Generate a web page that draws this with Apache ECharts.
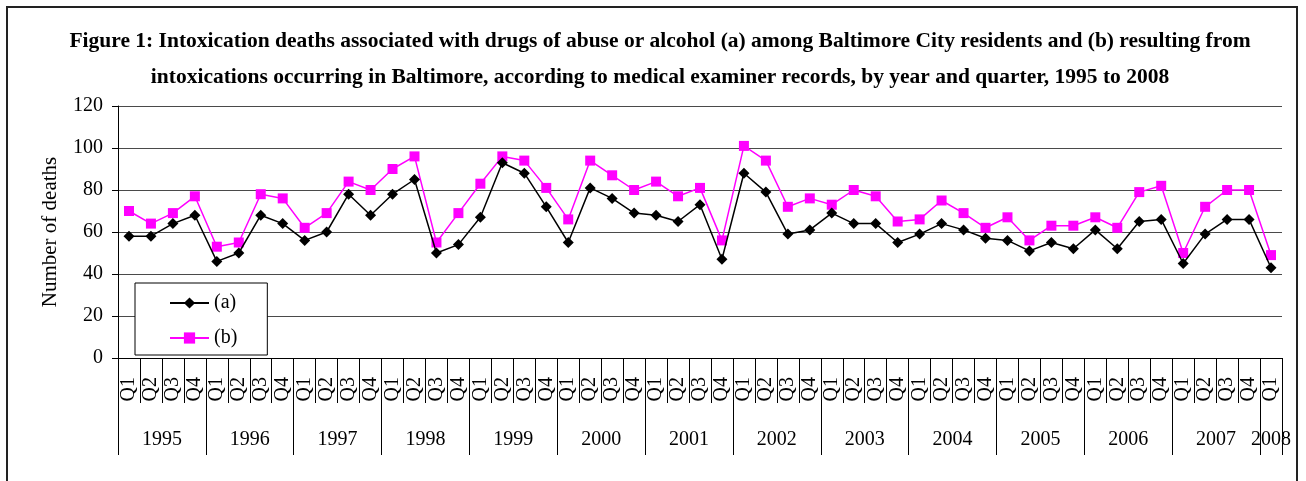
<!DOCTYPE html>
<html>
<head>
<meta charset="utf-8">
<title>Intoxication deaths, Baltimore, 1995-2008</title>
<script src="https://cdn.jsdelivr.net/npm/echarts@6/dist/echarts.min.js"></script>
<style>
  html, body { margin: 0; padding: 0; background: #fff; }
  #chart { width: 1306px; height: 481px; }
</style>
</head>
<body>
<div id="chart"></div>
<script>
// Quarter labels along the axis, 1995 Q1 through 2008 Q1
const quarters = [
  'Q1','Q2','Q3','Q4', 'Q1','Q2','Q3','Q4', 'Q1','Q2','Q3','Q4', 'Q1','Q2','Q3','Q4',
  'Q1','Q2','Q3','Q4', 'Q1','Q2','Q3','Q4', 'Q1','Q2','Q3','Q4', 'Q1','Q2','Q3','Q4',
  'Q1','Q2','Q3','Q4', 'Q1','Q2','Q3','Q4', 'Q1','Q2','Q3','Q4', 'Q1','Q2','Q3','Q4',
  'Q1','Q2','Q3','Q4', 'Q1'
];
const years = ['1995','1996','1997','1998','1999','2000','2001','2002',
               '2003','2004','2005','2006','2007','2008'];

// (a) deaths among Baltimore City residents
const seriesA = [
  58, 58, 64, 68,  46, 50, 68, 64,  56, 60, 78, 68,  78, 85, 50, 54,
  67, 93, 88, 72,  55, 81, 76, 69,  68, 65, 73, 47,  88, 79, 59, 61,
  69, 64, 64, 55,  59, 64, 61, 57,  56, 51, 55, 52,  61, 52, 65, 66,
  45, 59, 66, 66,  43
];
// (b) deaths resulting from intoxications occurring in Baltimore
const seriesB = [
  70, 64, 69, 77,  53, 55, 78, 76,  62, 69, 84, 80,  90, 96, 55, 69,
  83, 96, 94, 81,  66, 94, 87, 80,  84, 77, 81, 56, 101, 94, 72, 76,
  73, 80, 77, 65,  66, 75, 69, 62,  67, 56, 63, 63,  67, 62, 79, 82,
  50, 72, 80, 80,  49
];
const yTicks = { min: 0, max: 120, step: 20 };

// Year group boundaries and label positions on a continuous quarter scale
const nQ = quarters.length;
const yearBounds = [];
for (let i = 0; i <= nQ; i += 4) yearBounds.push(i);
if (yearBounds[yearBounds.length - 1] !== nQ) yearBounds.push(nQ);
const yearMids = [];
for (let k = 0; k < yearBounds.length - 1; k++) {
  yearMids.push((yearBounds[k] + yearBounds[k + 1]) / 2);
}

const serif = "'Liberation Serif', 'Times New Roman', serif";
const chart = echarts.init(document.getElementById('chart'), null, { renderer: 'canvas' });

chart.setOption({
  backgroundColor: '#ffffff',
  animation: false,
  textStyle: { fontFamily: serif, color: '#000' },
  title: {
    text: 'Figure 1: Intoxication deaths associated with drugs of abuse or alcohol (a) among Baltimore City residents and (b) resulting from\nintoxications occurring in Baltimore, according to medical examiner records, by year and quarter, 1995 to 2008',
    left: 655,
    textAlign: 'center',
    top: 18,
    textStyle: {
      fontFamily: serif, fontWeight: 'bold', fontSize: 21.5, lineHeight: 36, color: '#000'
    }
  },
  graphic: [{
    type: 'rect',
    shape: { x: 7, y: 7, width: 1290, height: 490 },
    style: { fill: 'none', stroke: '#222', lineWidth: 2 },
    silent: true
  }],
  legend: {
    orient: 'vertical',
    left: 135,
    top: 283,
    data: ['(a)', '(b)'],
    backgroundColor: '#fff',
    borderColor: '#000',
    borderWidth: 1,
    padding: [10, 30, 7, 34],
    itemWidth: 39,
    itemHeight: 14,
    itemGap: 15,
    textStyle: { fontFamily: serif, fontSize: 20, color: '#000' }
  },
  grid: { left: 118, right: 24, top: 106, bottom: 123, containLabel: false },
  xAxis: [{
    type: 'category',
    data: quarters,
    boundaryGap: true,
    position: 'bottom',
    axisLine: { show: true, lineStyle: { color: '#000', width: 1 } },
    axisTick: { show: true, interval: 0, length: 45, lineStyle: { color: '#000', width: 1 } },
    axisLabel: {
      interval: 0, rotate: 90, margin: 19,
      fontFamily: serif, fontSize: 20, color: '#000'
    },
    splitLine: { show: false }
  }, {
    type: 'value',
    min: 0,
    max: nQ,
    position: 'bottom',
    axisLine: { show: false },
    axisTick: {
      show: true, length: 97, customValues: yearBounds,
      lineStyle: { color: '#000', width: 1 }
    },
    axisLabel: {
      show: true, margin: 72, customValues: yearMids,
      fontFamily: serif, fontSize: 20, color: '#000',
      formatter: function (v) {
        return years[Math.floor(v / 4)];
      }
    },
    splitLine: { show: false }
  }],
  yAxis: {
    type: 'value',
    min: yTicks.min,
    max: yTicks.max,
    interval: yTicks.step,
    name: 'Number of deaths',
    nameLocation: 'middle',
    nameGap: 57,
    nameRotate: 90,
    nameTextStyle: { fontFamily: serif, fontSize: 21, color: '#000' },
    axisLine: { show: true, lineStyle: { color: '#000', width: 1 } },
    axisTick: { show: true, length: 6, lineStyle: { color: '#000' } },
    axisLabel: { margin: 15, fontFamily: serif, fontSize: 20, color: '#000' },
    splitLine: { show: true, lineStyle: { color: '#4a4a4a', width: 1 } }
  },
  series: [{
    name: '(b)',
    type: 'line',
    xAxisIndex: 0,
    data: seriesB,
    symbol: 'rect',
    symbolSize: 10,
    showAllSymbol: true,
    lineStyle: { color: '#ff00ff', width: 1.5 },
    itemStyle: { color: '#ff00ff' },
    z: 3
  }, {
    name: '(a)',
    type: 'line',
    xAxisIndex: 0,
    data: seriesA,
    symbol: 'diamond',
    symbolSize: 11,
    showAllSymbol: true,
    lineStyle: { color: '#000', width: 1.5 },
    itemStyle: { color: '#000' },
    z: 4
  }]
});
</script>
</body>
</html>
